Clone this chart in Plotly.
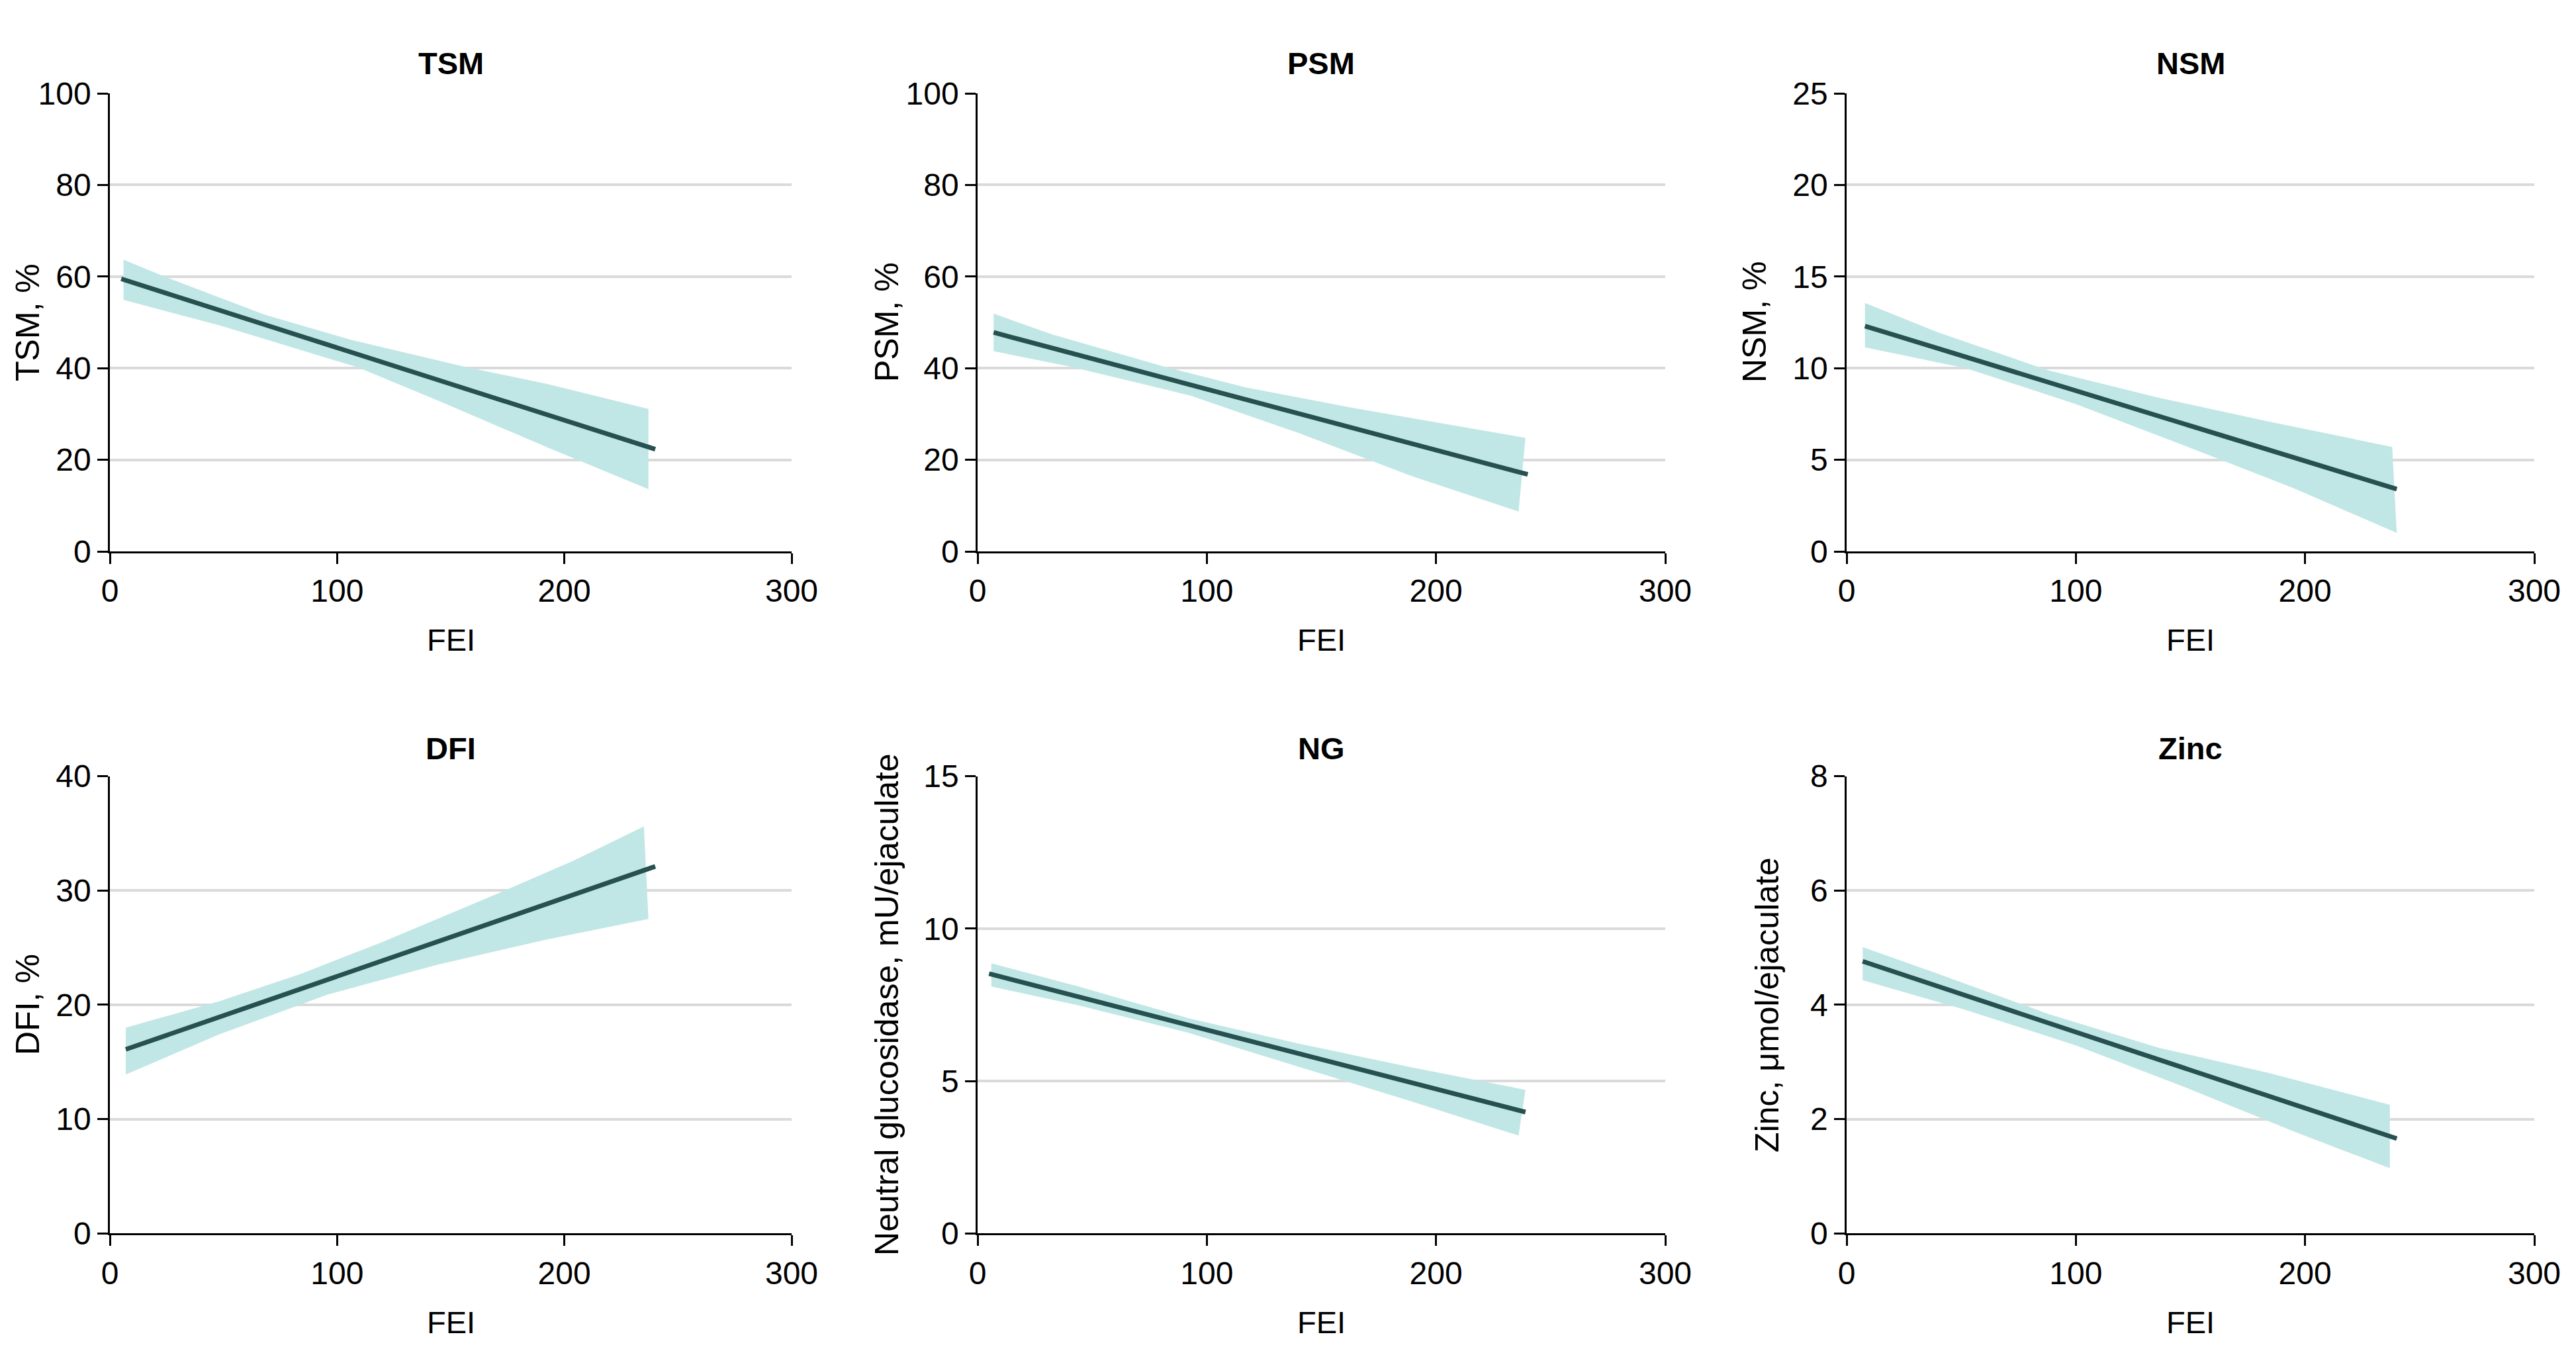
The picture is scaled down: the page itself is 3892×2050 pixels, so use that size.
import plotly.graph_objects as go

# ---------------- data ----------------
panels = ["TSM", "PSM", "NSM", "DFI", "NG", "Zinc"]
y_titles = ["TSM, %", "PSM, %", "NSM, %", "DFI, %",
            "Neutral glucosidase, mU/ejaculate", "Zinc, μmol/ejaculate"]
y_max = [100, 100, 25, 40, 15, 8]
y_dtick = [20, 20, 5, 10, 5, 2]
x_ticks = [0, 100, 200, 300]

# fitted line end points (FEI, value)
tsm_line_x = [5, 240];   tsm_line_y = [59.5, 22.3]
psm_line_x = [7, 240];   psm_line_y = [47.8, 16.8]
nsm_line_x = [8, 240];   nsm_line_y = [12.3, 3.4]
dfi_line_x = [7, 240];   dfi_line_y = [16.1, 32.1]
ng_line_x = [5, 239];    ng_line_y = [8.52, 3.98]
zinc_line_x = [7, 240];  zinc_line_y = [4.76, 1.66]

# 95% CI band: upper and lower bounds
tsm_up_x = [6, 24, 68, 106, 157, 193, 237]
tsm_up_y = [63.7, 60.0, 51.7, 46.2, 40.2, 36.5, 31.1]
tsm_lo_x = [6, 48, 109, 145, 193, 237]
tsm_lo_y = [54.9, 49.4, 40.2, 32.8, 22.6, 13.6]

psm_up_x = [7, 33, 81, 117, 165, 213, 239]
psm_up_y = [51.9, 47.3, 40.4, 35.8, 31.2, 27.1, 24.8]
psm_lo_x = [7, 40, 93, 141, 189, 236]
psm_lo_y = [43.7, 40.4, 34.0, 25.7, 16.5, 8.7]

nsm_up_x = [8, 40, 88, 136, 183, 238]
nsm_up_y = [13.56, 11.95, 9.88, 8.39, 7.12, 5.7]
nsm_lo_x = [8, 52, 100, 148, 195, 240]
nsm_lo_y = [11.14, 10.0, 8.04, 5.74, 3.45, 1.01]

dfi_up_x = [7, 48, 84, 120, 168, 204, 235]
dfi_up_y = [18.0, 20.3, 22.7, 25.5, 29.5, 32.6, 35.6]
dfi_lo_x = [7, 48, 96, 144, 192, 237]
dfi_lo_y = [13.9, 17.4, 20.9, 23.5, 25.7, 27.5]

ng_up_x = [6, 44, 92, 140, 188, 239]
ng_up_y = [8.86, 8.10, 7.06, 6.23, 5.47, 4.71]
ng_lo_x = [6, 44, 92, 140, 188, 236]
ng_lo_y = [8.10, 7.48, 6.58, 5.47, 4.36, 3.21]

zinc_up_x = [7, 40, 88, 136, 184, 237]
zinc_up_y = [5.01, 4.54, 3.84, 3.25, 2.81, 2.25]
zinc_lo_x = [7, 52, 100, 148, 196, 237]
zinc_lo_y = [4.43, 3.91, 3.29, 2.55, 1.77, 1.14]

lines = [(tsm_line_x, tsm_line_y), (psm_line_x, psm_line_y), (nsm_line_x, nsm_line_y),
         (dfi_line_x, dfi_line_y), (ng_line_x, ng_line_y), (zinc_line_x, zinc_line_y)]
bands = [(tsm_up_x, tsm_up_y, tsm_lo_x, tsm_lo_y), (psm_up_x, psm_up_y, psm_lo_x, psm_lo_y),
         (nsm_up_x, nsm_up_y, nsm_lo_x, nsm_lo_y), (dfi_up_x, dfi_up_y, dfi_lo_x, dfi_lo_y),
         (ng_up_x, ng_up_y, ng_lo_x, ng_lo_y), (zinc_up_x, zinc_up_y, zinc_lo_x, zinc_lo_y)]

# ---------------- layout ----------------
OFF = 8                      # browser body margin
W, H = 3892 - 2 * OFF, 2050 - 2 * OFF
FONT = "Liberation Sans, Arial, sans-serif"
LINE_COLOR = "#265150"
BAND_COLOR = "#c0e7e5"
GRID_COLOR = "#dadada"


def px_x(p):
    return (p - OFF) / W


def px_y(p):
    return 1 - (p - OFF) / H


col_px = [(166, 1196), (1477, 2516), (2790, 3829)]
row_px = [(141, 833), (1172.5, 1863.3)]
col_dom = [(px_x(a), px_x(b)) for a, b in col_px]
row_dom = [(px_y(b), px_y(a)) for a, b in row_px]
ytitle_px = [42, 1340, 2651, 42, 1340, 2670]
title_py = [96, 1130]
fei_py = [966, 1997]

fig = go.Figure()
layout = dict(width=W, height=H, autosize=False,
              margin=dict(l=0, r=0, t=0, b=0, pad=0),
              paper_bgcolor="white", plot_bgcolor="white",
              showlegend=False, font=dict(family=FONT, size=48, color="black"))
annotations = []

for i, name in enumerate(panels):
    r, c = divmod(i, 3)
    k = "" if i == 0 else str(i + 1)
    xa, ya = "x" + k, "y" + k
    ux, uy, lx, ly = bands[i]
    fig.add_trace(go.Scatter(x=ux + lx[::-1], y=uy + ly[::-1], fill="toself",
                             fillcolor=BAND_COLOR, line=dict(width=0), mode="lines",
                             hoverinfo="skip", xaxis=xa, yaxis=ya))
    lxs, lys = lines[i]
    fig.add_trace(go.Scatter(x=lxs, y=lys, mode="lines",
                             line=dict(color=LINE_COLOR, width=7),
                             xaxis=xa, yaxis=ya))
    common = dict(automargin=False, zeroline=False, showline=True, linecolor="black",
                  linewidth=2.5, ticks="outside", ticklen=16, tickwidth=2.5,
                  tickcolor="black", tickfont=dict(size=48), fixedrange=True)
    layout["xaxis" + k] = dict(domain=list(col_dom[c]), anchor=ya, range=[0, 300],
                               tickvals=x_ticks, showgrid=False, **common)
    layout["yaxis" + k] = dict(domain=list(row_dom[r]), anchor=xa, range=[0, y_max[i]],
                               dtick=y_dtick[i], tick0=0, showgrid=True,
                               gridcolor=GRID_COLOR, gridwidth=4, **common)
    cx = (col_dom[c][0] + col_dom[c][1]) / 2
    annotations.append(dict(text="<b>%s</b>" % name, x=cx, y=px_y(title_py[r]), xref="paper",
                            yref="paper", showarrow=False, xanchor="center", yanchor="middle",
                            font=dict(size=47)))
    annotations.append(dict(text="FEI", x=cx, y=px_y(fei_py[r]), xref="paper", yref="paper",
                            showarrow=False, xanchor="center", yanchor="middle",
                            font=dict(size=47)))
    cy = (row_dom[r][0] + row_dom[r][1]) / 2
    annotations.append(dict(text=y_titles[i], x=px_x(ytitle_px[i]), y=cy, xref="paper",
                            yref="paper", showarrow=False, textangle=-90,
                            xanchor="center", yanchor="middle", font=dict(size=50)))

layout["annotations"] = annotations
fig.update_layout(**layout)
fig.write_html("out.html")
